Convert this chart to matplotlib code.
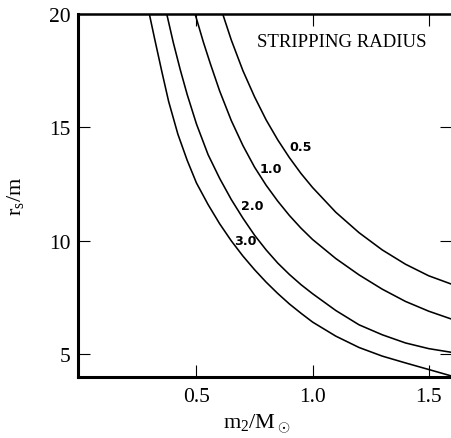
import matplotlib
matplotlib.use('Agg')
import matplotlib.pyplot as plt

plt.rcParams['font.family'] = 'Liberation Serif'
plt.rcParams['mathtext.fontset'] = 'custom'
plt.rcParams['mathtext.rm'] = 'Liberation Serif'
plt.rcParams['mathtext.it'] = 'Liberation Serif:italic'

# values: m2/Msun vs rs/m, one curve per label
m_05 = [0.613, 0.65, 0.70, 0.75, 0.80, 0.85, 0.90, 0.95, 1.00, 1.10, 1.20, 1.30, 1.40, 1.50, 1.596]
r_05 = [20.0, 18.85, 17.5, 16.35, 15.33, 14.45, 13.67, 12.97, 12.35, 11.26, 10.36, 9.60, 8.97, 8.46, 8.10]

m_10 = [0.494, 0.53, 0.56, 0.60, 0.65, 0.70, 0.75, 0.80, 0.85, 0.90, 0.95, 1.00, 1.10, 1.20, 1.30, 1.40, 1.50, 1.596]
r_10 = [20.0, 18.75, 17.8, 16.6, 15.3, 14.2, 13.25, 12.45, 11.75, 11.12, 10.56, 10.06, 9.22, 8.50, 7.87, 7.33, 6.90, 6.56]

m_20 = [0.372, 0.40, 0.43, 0.46, 0.50, 0.55, 0.60, 0.65, 0.70, 0.75, 0.80, 0.85, 0.90, 0.95, 1.00, 1.10, 1.20, 1.30, 1.40, 1.50, 1.596]
r_20 = [20.0, 18.75, 17.55, 16.45, 15.15, 13.8, 12.75, 11.82, 11.0, 10.25, 9.6, 9.02, 8.52, 8.07, 7.67, 6.93, 6.30, 5.86, 5.50, 5.25, 5.09]

m_30 = [0.297, 0.32, 0.35, 0.38, 0.42, 0.46, 0.50, 0.55, 0.60, 0.65, 0.70, 0.75, 0.80, 0.85, 0.90, 0.95, 1.00, 1.10, 1.20, 1.30, 1.40, 1.50, 1.596]
r_30 = [20.0, 18.9, 17.5, 16.15, 14.7, 13.55, 12.55, 11.6, 10.75, 10.0, 9.33, 8.73, 8.18, 7.68, 7.22, 6.81, 6.42, 5.80, 5.30, 4.92, 4.62, 4.33, 4.05]

curve_labels = ['0.5', '1.0', '2.0', '3.0']
label_x = [0.948, 0.822, 0.740, 0.710]
label_y = [14.14, 13.2, 11.54, 10.0]

fig = plt.figure(figsize=(4.51, 4.39), dpi=100)
ax = fig.add_axes([0.173, 0.139, 0.829, 0.827])

for m, r in [(m_05, r_05), (m_10, r_10), (m_20, r_20), (m_30, r_30)]:
    ax.plot(m, r, color='black', lw=1.15, solid_joinstyle='round')

for lab, lx, ly in zip(curve_labels, label_x, label_y):
    ax.text(lx, ly, lab, family='DejaVu Sans', weight='bold', fontsize=9.2,
            ha='center', va='center')

ax.text(1.125, 18.77, 'STRIPPING RADIUS', fontsize=13.5, ha='center', va='center')

ax.set_xlim(-0.01, 1.6)
ax.set_ylim(4, 20)
ax.set_xticks([0.5, 1.0, 1.5])
ax.set_xticklabels(['0.5', '1.0', '1.5'])
ax.set_yticks([5, 10, 15, 20])

ax.tick_params(direction='in', length=8.6, width=0.8, labelsize=15.5,
               top=True, right=True)
ax.tick_params(axis='x', pad=7)
ax.tick_params(axis='y', pad=5.5)

ax.spines['left'].set_linewidth(2.2)
ax.spines['bottom'].set_linewidth(2.2)
ax.spines['top'].set_linewidth(1.8)
ax.spines['right'].set_visible(False)

ax.set_xlabel(r'$\mathrm{m_2/M_\odot}$', fontsize=16)
ax.xaxis.set_label_coords(0.479, -0.095)
ax.set_ylabel(r'$\mathrm{r_s/m}$', fontsize=16)
ax.yaxis.set_label_coords(-0.14, 0.5)

fig.savefig('out.png', dpi=100)
